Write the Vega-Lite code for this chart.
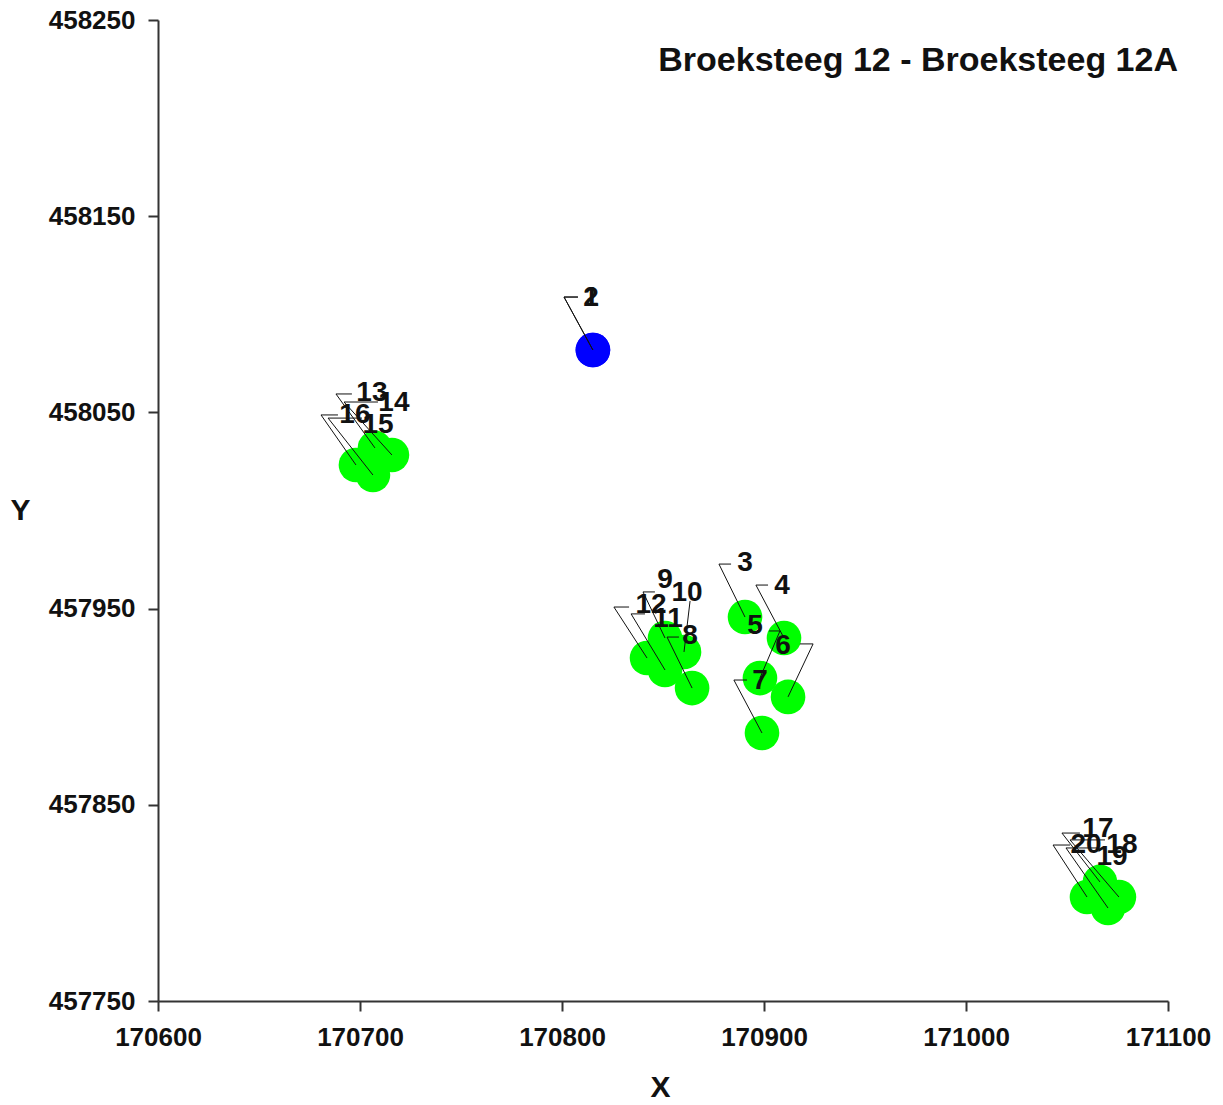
{
  "$schema": "https://vega.github.io/schema/vega-lite/v6.json",
  "width": 1010,
  "height": 981,
  "autosize": "none",
  "padding": {"left": 158, "top": 20, "right": 55, "bottom": 104},
  "background": "white",
  "config": {"view": {"stroke": null}},
  "data": {
    "values": [
      {"id": "1", "kind": "blue", "x": 170815.3, "y": 458081.8, "cx": 170801.0, "cy": 458108.8, "hx": 170807.9, "tx": 170814.4, "ty": 458108.3},
      {"id": "2", "kind": "blue", "x": 170815.3, "y": 458081.8, "cx": 170801.0, "cy": 458108.8, "hx": 170807.9, "tx": 170814.4, "ty": 458108.3},
      {"id": "3", "kind": "green", "x": 170890.6, "y": 457945.7, "cx": 170877.7, "cy": 457972.7, "hx": 170883.7, "tx": 170890.6, "ty": 457973.2},
      {"id": "4", "kind": "green", "x": 170909.9, "y": 457935.0, "cx": 170896.0, "cy": 457962.0, "hx": 170902.0, "tx": 170908.9, "ty": 457961.5},
      {"id": "5", "kind": "green", "x": 170898.0, "y": 457914.6, "cx": 170907.9, "cy": 457938.6, "hx": 170902.5, "tx": 170895.5, "ty": 457941.1},
      {"id": "6", "kind": "green", "x": 170911.9, "y": 457905.0, "cx": 170924.3, "cy": 457932.0, "hx": 170917.8, "tx": 170909.4, "ty": 457930.9},
      {"id": "7", "kind": "green", "x": 170899.0, "y": 457886.6, "cx": 170885.1, "cy": 457913.6, "hx": 170891.6, "tx": 170898.0, "ty": 457913.1},
      {"id": "8", "kind": "green", "x": 170864.4, "y": 457909.5, "cx": 170852.0, "cy": 457935.5, "hx": 170857.9, "tx": 170863.4, "ty": 457936.0},
      {"id": "9", "kind": "green", "x": 170851.0, "y": 457935.0, "cx": 170840.1, "cy": 457958.5, "hx": 170846.0, "tx": 170851.0, "ty": 457964.6},
      {"id": "10", "kind": "green", "x": 170860.4, "y": 457927.9, "cx": 170863.4, "cy": 457953.9, "hx": 170863.4, "tx": 170861.9, "ty": 457958.0},
      {"id": "11", "kind": "green", "x": 170851.0, "y": 457918.7, "cx": 170834.2, "cy": 457947.3, "hx": 170841.1, "tx": 170852.5, "ty": 457944.7},
      {"id": "12", "kind": "green", "x": 170842.1, "y": 457924.8, "cx": 170825.7, "cy": 457950.8, "hx": 170833.2, "tx": 170844.1, "ty": 457951.8},
      {"id": "13", "kind": "green", "x": 170707.4, "y": 458031.9, "cx": 170688.1, "cy": 458059.4, "hx": 170696.0, "tx": 170705.9, "ty": 458059.9},
      {"id": "14", "kind": "green", "x": 170715.8, "y": 458028.3, "cx": 170692.1, "cy": 458055.3, "hx": 170708.9, "tx": 170716.8, "ty": 458054.8},
      {"id": "15", "kind": "green", "x": 170706.4, "y": 458018.1, "cx": 170684.2, "cy": 458047.1, "hx": 170701.0, "tx": 170708.9, "ty": 458043.6},
      {"id": "16", "kind": "green", "x": 170698.0, "y": 458023.2, "cx": 170680.7, "cy": 458048.7, "hx": 170689.1, "tx": 170697.5, "ty": 458048.7},
      {"id": "17", "kind": "green", "x": 171066.3, "y": 457810.7, "cx": 171047.5, "cy": 457835.6, "hx": 171056.4, "tx": 171065.3, "ty": 457837.7},
      {"id": "18", "kind": "green", "x": 171075.7, "y": 457803.0, "cx": 171051.5, "cy": 457832.1, "hx": 171068.8, "tx": 171077.2, "ty": 457829.5},
      {"id": "19", "kind": "green", "x": 171070.3, "y": 457797.4, "cx": 171049.5, "cy": 457828.0, "hx": 171064.9, "tx": 171072.3, "ty": 457823.4},
      {"id": "20", "kind": "green", "x": 171059.9, "y": 457803.0, "cx": 171043.1, "cy": 457829.5, "hx": 171051.5, "tx": 171059.4, "ty": 457829.5}
    ]
  },
  "layer": [
    {
      "mark": {"type": "circle", "size": 1200, "opacity": 1},
      "encoding": {
        "x": {
          "field": "x", "type": "quantitative",
          "scale": {"domain": [170600, 171100], "nice": false, "zero": false},
          "axis": {
            "values": [170600, 170700, 170800, 170900, 171000, 171100],
            "format": "d",
            "grid": false,
            "title": "X",
            "titleFont": "Liberation Sans", "titleFontSize": 30, "titleFontWeight": "bold", "titleColor": "#111111",
            "titleX": 502, "titleY": 86, "titleBaseline": "middle", "titleAlign": "center",
            "labelFont": "Liberation Sans", "labelFontSize": 26, "labelFontWeight": "bold", "labelColor": "#111111",
            "labelPadding": 13, "labelFlush": false, "labelOverlap": false,
            "domainColor": "#333333", "domainWidth": 2,
            "tickColor": "#333333", "tickWidth": 2, "tickSize": 10
          }
        },
        "y": {
          "field": "y", "type": "quantitative",
          "scale": {"domain": [457750, 458250], "nice": false, "zero": false},
          "axis": {
            "values": [457750, 457850, 457950, 458050, 458150, 458250],
            "format": "d",
            "grid": false,
            "title": "Y",
            "titleAngle": 0,
            "titleFont": "Liberation Sans", "titleFontSize": 30, "titleFontWeight": "bold", "titleColor": "#111111",
            "titleX": -138, "titleY": 490, "titleBaseline": "middle", "titleAlign": "center",
            "labelFont": "Liberation Sans", "labelFontSize": 26, "labelFontWeight": "bold", "labelColor": "#111111",
            "labelPadding": 13, "labelFlush": false, "labelOverlap": false,
            "domainColor": "#333333", "domainWidth": 2,
            "tickColor": "#333333", "tickWidth": 2, "tickSize": 10
          }
        },
        "color": {
          "field": "kind", "type": "nominal",
          "scale": {"domain": ["blue", "green"], "range": ["#0000ff", "#00ff00"]},
          "legend": null
        }
      }
    },
    {
      "mark": {"type": "rule", "color": "#111111", "strokeWidth": 1},
      "encoding": {
        "x": {"field": "x", "type": "quantitative"},
        "y": {"field": "y", "type": "quantitative"},
        "x2": {"field": "cx"},
        "y2": {"field": "cy"}
      }
    },
    {
      "mark": {"type": "rule", "color": "#111111", "strokeWidth": 1},
      "encoding": {
        "x": {"field": "cx", "type": "quantitative"},
        "y": {"field": "cy", "type": "quantitative"},
        "x2": {"field": "hx"}
      }
    },
    {
      "mark": {"type": "text", "font": "Liberation Sans", "fontSize": 28, "fontWeight": "bold", "color": "#111111", "align": "center", "baseline": "middle"},
      "encoding": {
        "x": {"field": "tx", "type": "quantitative"},
        "y": {"field": "ty", "type": "quantitative"},
        "text": {"field": "id"}
      }
    },
    {
      "data": {"values": [{"title": "Broeksteeg 12 - Broeksteeg 12A"}]},
      "mark": {"type": "text", "font": "Liberation Sans", "fontSize": 34, "fontWeight": "bold", "color": "#111111", "align": "right", "baseline": "alphabetic", "dx": 10},
      "encoding": {
        "x": {"datum": 171100, "type": "quantitative"},
        "y": {"datum": 458224, "type": "quantitative"},
        "text": {"field": "title"}
      }
    }
  ]
}
